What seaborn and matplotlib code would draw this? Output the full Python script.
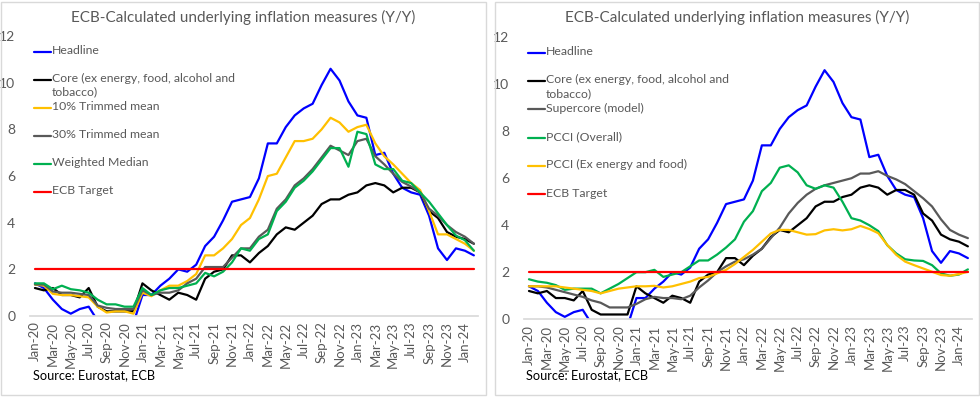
import numpy as np
import pandas as pd
import matplotlib
matplotlib.use('Agg')
import matplotlib.pyplot as plt
import seaborn as sns
from matplotlib.patches import Rectangle


MONTHS = pd.date_range('2020-01-01', periods=50, freq='MS').strftime('%b-%y').tolist()

headline = [1.4, 1.2, 0.7, 0.3, 0.1, 0.3, 0.4, -0.2, -0.3, -0.3, -0.3, -0.3,
            0.9, 0.9, 1.3, 1.6, 2.0, 1.9, 2.2, 3.0, 3.4, 4.1, 4.9, 5.0,
            5.1, 5.9, 7.4, 7.4, 8.1, 8.6, 8.9, 9.1, 9.9, 10.6, 10.1, 9.2,
            8.6, 8.5, 6.9, 7.0, 6.1, 5.5, 5.3, 5.2, 4.3, 2.9, 2.4, 2.9,
            2.8, 2.6]
core = [1.2, 1.1, 1.2, 0.9, 0.9, 0.8, 1.2, 0.4, 0.2, 0.2, 0.2, 0.2,
        1.4, 1.1, 0.9, 0.7, 1.0, 0.9, 0.7, 1.6, 1.9, 2.0, 2.6, 2.6,
        2.3, 2.7, 3.0, 3.5, 3.8, 3.7, 4.0, 4.3, 4.8, 5.0, 5.0, 5.2,
        5.3, 5.6, 5.7, 5.6, 5.3, 5.5, 5.5, 5.3, 4.5, 4.2, 3.6, 3.4,
        3.3, 3.1]
trimmed_10 = [1.35, 1.3, 0.95, 0.9, 0.9, 0.85, 0.8, 0.4, 0.15, 0.2, 0.2, 0.1,
              1.0, 0.85, 1.1, 1.3, 1.3, 1.5, 1.8, 2.6, 2.6, 2.9, 3.3, 3.9,
              4.2, 5.0, 6.0, 6.1, 6.8, 7.5, 7.5, 7.6, 8.0, 8.5, 8.3, 7.9,
              8.1, 8.2, 7.4, 6.85, 6.5, 6.1, 5.7, 5.4, 4.5, 3.5, 3.5, 3.3,
              3.1, 2.8]
trimmed_30 = [1.35, 1.35, 1.05, 1.0, 1.0, 0.95, 0.9, 0.45, 0.35, 0.3, 0.3, 0.3,
              1.1, 0.9, 1.0, 1.0, 1.1, 1.4, 1.6, 2.1, 2.1, 2.1, 2.5, 2.9,
              2.9, 3.4, 3.7, 4.6, 5.0, 5.6, 5.9, 6.3, 6.8, 7.3, 7.1, 6.9,
              7.5, 7.6, 6.85, 6.5, 6.1, 5.75, 5.55, 5.3, 4.6, 4.3, 3.9, 3.6,
              3.4, 3.1]
weighted_median = [1.4, 1.4, 1.15, 1.3, 1.15, 1.1, 1.0, 0.7, 0.5, 0.5, 0.4, 0.4,
                   1.2, 0.9, 1.1, 1.2, 1.2, 1.3, 1.4, 1.85, 1.7, 1.9, 2.3, 2.9,
                   2.8, 3.3, 3.5, 4.5, 4.9, 5.5, 5.8, 6.2, 6.7, 7.2, 7.2, 6.4,
                   7.9, 7.8, 6.5, 6.3, 6.3, 5.8, 5.7, 5.3, 4.9, 4.4, 3.9, 3.45,
                   3.25, 2.8]
supercore = [1.4, 1.4, 1.35, 1.25, 1.15, 1.05, 0.95, 0.8, 0.7, 0.5, 0.5, 0.5,
             0.65, 0.85, 0.95, 0.9, 0.9, 0.85, 1.0, 1.35, 1.65, 2.0, 2.25, 2.45,
             2.55, 2.75, 3.0, 3.45, 3.9, 4.5, 4.95, 5.3, 5.55, 5.7, 5.8, 5.9,
             6.0, 6.2, 6.2, 6.3, 6.1, 5.95, 5.75, 5.45, 5.15, 4.8, 4.25, 3.8,
             3.6, 3.45]
pcci_overall = [1.7, 1.6, 1.55, 1.45, 1.25, 1.3, 1.3, 1.3, 1.1, 1.3, 1.5, 1.75,
                2.0, 2.0, 2.1, 1.8, 1.9, 2.0, 2.25, 2.5, 2.5, 2.75, 3.05, 3.4,
                4.15, 4.6, 5.45, 5.8, 6.45, 6.55, 6.25, 5.7, 5.55, 5.7, 5.6, 5.0,
                4.3, 4.2, 4.0, 3.75, 3.15, 2.8, 2.55, 2.5, 2.48, 2.3, 1.95, 1.85,
                1.9, 2.12]
pcci_ex = [1.4, 1.4, 1.4, 1.4, 1.35, 1.3, 1.25, 1.2, 1.1, 1.2, 1.3, 1.35,
           1.4, 1.4, 1.42, 1.35, 1.4, 1.5, 1.6, 1.75, 1.8, 1.95, 2.1, 2.35,
           2.65, 2.95, 3.3, 3.65, 3.8, 3.8, 3.7, 3.6, 3.62, 3.78, 3.83, 3.78,
           3.83, 3.97, 3.84, 3.66, 3.16, 2.74, 2.45, 2.3, 2.16, 2.02, 1.88, 1.85,
           1.92, 2.02]
ecb_target = [2.0] * 50

CORE_LABEL = 'Core (ex energy, food, alcohol and\ntobacco)'
LEFT = [('Headline', headline, '#0000FF'),
        (CORE_LABEL, core, '#000000'),
        ('10% Trimmed mean', trimmed_10, '#FFC000'),
        ('30% Trimmed mean', trimmed_30, '#595959'),
        ('Weighted Median', weighted_median, '#00B050'),
        ('ECB Target', ecb_target, '#FF0000')]
RIGHT = [('Headline', headline, '#0000FF'),
         (CORE_LABEL, core, '#000000'),
         ('Supercore (model)', supercore, '#595959'),
         ('PCCI (Overall)', pcci_overall, '#00B050'),
         ('PCCI (Ex energy and food)', pcci_ex, '#FFC000'),
         ('ECB Target', ecb_target, '#FF0000')]

TEXT = '#595959'
GRID = '#d9d9d9'


def draw_panel(ax, series):
    frames = []
    for name, vals, _ in series:
        frames.append(pd.DataFrame({'idx': range(len(vals)), 'value': vals, 'series': name}))
    df = pd.concat(frames, ignore_index=True)
    names = [s[0] for s in series]
    palette = {s[0]: s[2] for s in series}
    sns.lineplot(data=df, x='idx', y='value', hue='series', hue_order=names,
                 palette=palette, linewidth=1.6, legend=False, ax=ax, sort=False)

    ax.set_xlim(-0.5, 49.5)
    ax.set_ylim(0, 12)
    ax.set_yticks(range(0, 13, 2))
    ax.set_xticks(range(0, 50, 2))
    ax.set_xticklabels(MONTHS[::2], rotation=90, fontsize=9.5, color=TEXT)
    ax.set_xticks(np.arange(-0.5, 50, 2), minor=True)
    ax.tick_params(axis='x', which='major', length=0, pad=4)
    ax.tick_params(axis='x', which='minor', length=4, color=GRID, width=1)
    ax.tick_params(axis='y', length=0, pad=11, labelsize=10, labelcolor=TEXT)
    ax.set_xlabel('')
    ax.set_ylabel('')
    for side in ['top', 'right', 'left']:
        ax.spines[side].set_visible(False)
    ax.spines['bottom'].set_color(GRID)

    # legend drawn by hand so the two-line label lines up like the original
    for k, (name, _, color) in enumerate(series):
        y = 0.945 - k * 0.1005
        ax.plot([0.007, 0.046], [y, y], transform=ax.transAxes, color=color,
                lw=1.6, clip_on=False)
        ax.annotate(name, xy=(0.048, y), xycoords='axes fraction',
                    xytext=(0, 5.0), textcoords='offset points', va='top',
                    ha='left', fontsize=8.8, color=TEXT, linespacing=1.3)


def main():
    sns.set_theme(style='white')
    plt.rcParams['font.family'] = ['Lato', 'DejaVu Sans']

    fig = plt.figure(figsize=(9.8, 3.97), dpi=100)
    ax_left = fig.add_axes([0.0311, 0.204, 0.457, 0.705])
    ax_right = fig.add_axes([0.5352, 0.196, 0.457, 0.710])

    draw_panel(ax_left, LEFT)
    draw_panel(ax_right, RIGHT)

    title = 'ECB-Calculated underlying inflation measures (Y/Y)'
    fig.text(0.248, 0.957, title, ha='center', va='center', fontsize=11, color=TEXT)
    fig.text(0.752, 0.955, title, ha='center', va='center', fontsize=11, color=TEXT)
    fig.text(0.034, 0.055, 'Source: Eurostat, ECB', ha='left', va='center', fontsize=9.2, color='black')
    fig.text(0.537, 0.055, 'Source: Eurostat, ECB', ha='left', va='center', fontsize=9.2, color='black')

    fig.add_artist(Rectangle((0.001, 0.004), 0.495, 0.992, transform=fig.transFigure,
                             fill=False, ec=GRID, lw=1))
    fig.add_artist(Rectangle((0.505, 0.004), 0.494, 0.992, transform=fig.transFigure,
                             fill=False, ec=GRID, lw=1))

    fig.savefig('out.png', dpi=100, facecolor='white')


if __name__ == '__main__':
    main()
